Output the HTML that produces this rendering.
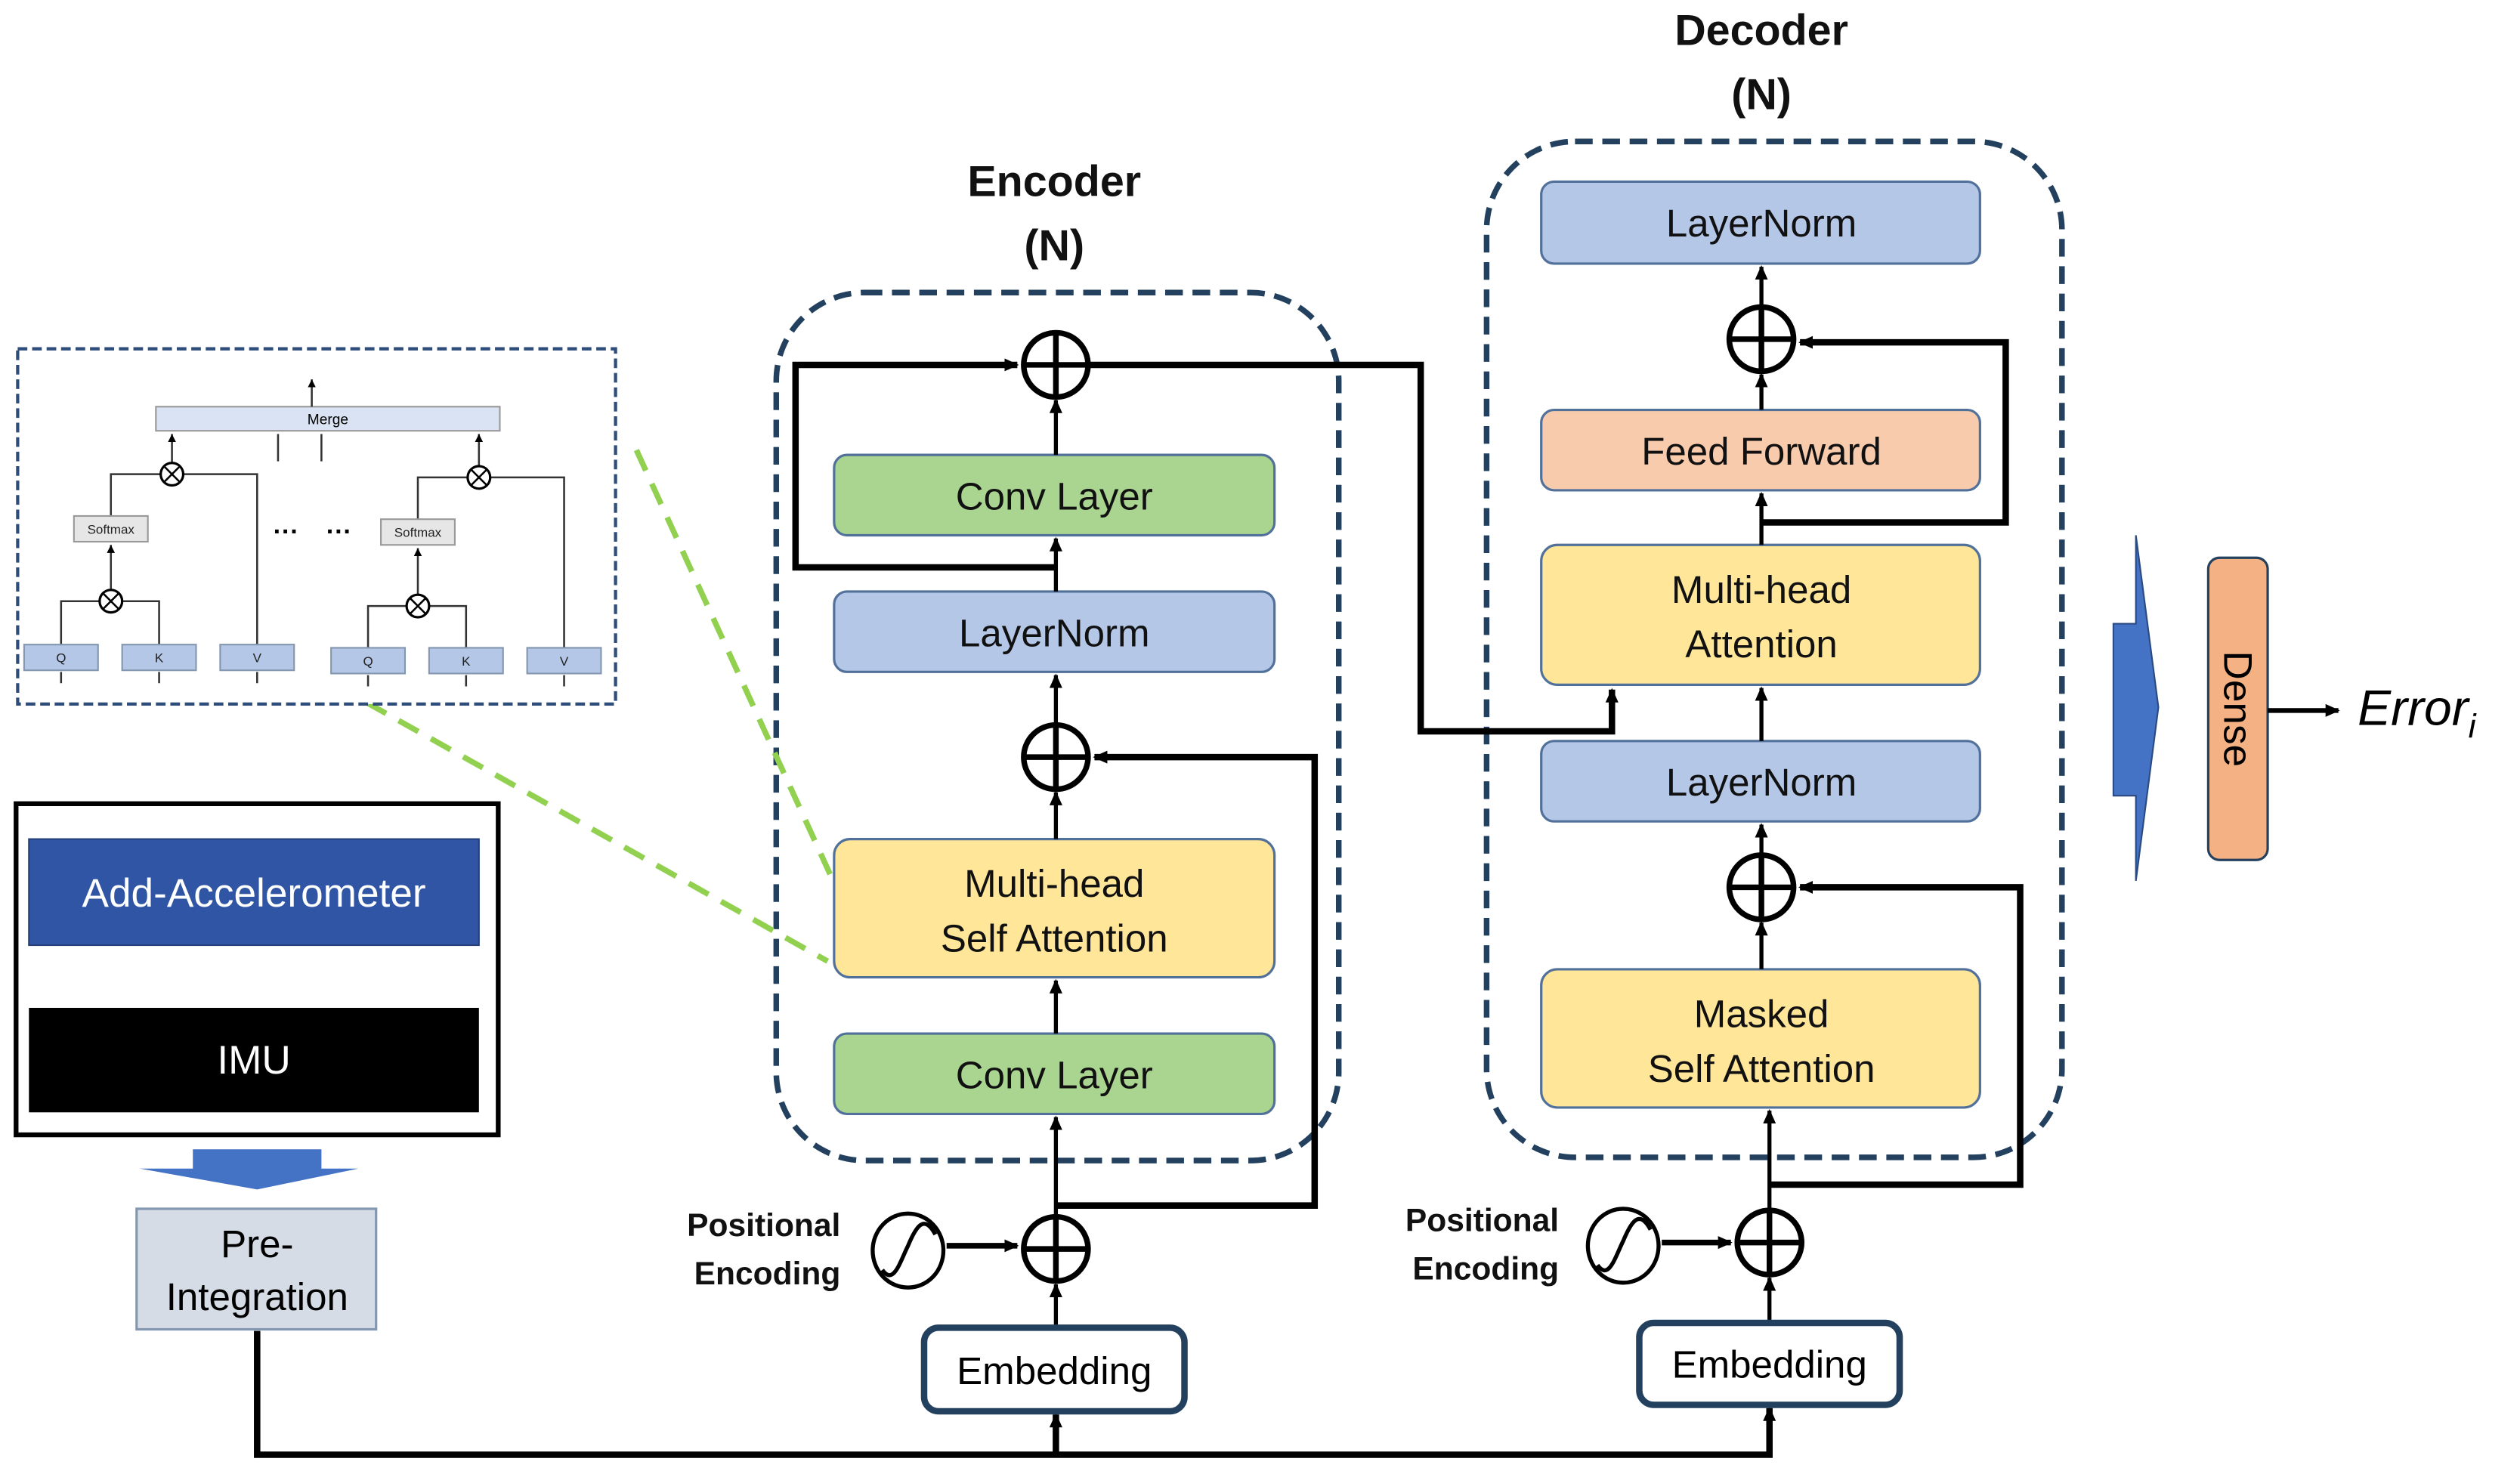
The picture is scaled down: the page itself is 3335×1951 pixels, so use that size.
<!DOCTYPE html>
<html><head><meta charset="utf-8"><style>
html,body{margin:0;padding:0;background:#fff;}
svg{display:block;}
text{font-family:"Liberation Sans",sans-serif;}
</style></head><body>
<svg width="3335" height="1951" viewBox="0 0 1568 917" preserveAspectRatio="none" xmlns="http://www.w3.org/2000/svg">
<defs>
<marker id="a" markerWidth="10" markerHeight="10" refX="8" refY="5" orient="auto" markerUnits="userSpaceOnUse"><path d="M0,1 L9,5 L0,9 Z" fill="#000"/></marker>
<marker id="s" markerWidth="6" markerHeight="6" refX="5" refY="3" orient="auto" markerUnits="userSpaceOnUse"><path d="M0,0.5 L5,3 L0,5.5 Z" fill="#000"/></marker>
</defs>

<g font-weight="bold" font-size="27" text-anchor="middle" fill="#111">
<text x="656" y="122">Encoder</text><text x="656" y="162">(N)</text>
<text x="1096" y="28">Decoder</text><text x="1096" y="68">(N)</text>
</g>

<rect x="483" y="182" width="350" height="540" rx="55" fill="none" stroke="#23415f" stroke-width="3.5" stroke-dasharray="11,6"/>
<rect x="925" y="88" width="358" height="632" rx="55" fill="none" stroke="#23415f" stroke-width="3.5" stroke-dasharray="11,6"/>

<g stroke="#51709a" stroke-width="1.5">
<rect x="519" y="283" width="274" height="50" rx="8" fill="#a9d590"/>
<rect x="519" y="368" width="274" height="50" rx="8" fill="#b4c7e7"/>
<rect x="519" y="522" width="274" height="86" rx="10" fill="#ffe699"/>
<rect x="519" y="643" width="274" height="50" rx="8" fill="#a9d590"/>
<rect x="959" y="113" width="273" height="51" rx="8" fill="#b4c7e7"/>
<rect x="959" y="255" width="273" height="50" rx="8" fill="#f8cbad"/>
<rect x="959" y="339" width="273" height="87" rx="10" fill="#ffe699"/>
<rect x="959" y="461" width="273" height="50" rx="8" fill="#b4c7e7"/>
<rect x="959" y="603" width="273" height="86" rx="10" fill="#ffe699"/>
</g>
<g font-size="24" text-anchor="middle" fill="#111">
<text x="656" y="317">Conv Layer</text>
<text x="656" y="402">LayerNorm</text>
<text x="656" y="558">Multi-head</text><text x="656" y="592">Self Attention</text>
<text x="656" y="677">Conv Layer</text>
<text x="1096" y="147">LayerNorm</text>
<text x="1096" y="289">Feed Forward</text>
<text x="1096" y="375">Multi-head</text><text x="1096" y="409">Attention</text>
<text x="1096" y="495">LayerNorm</text>
<text x="1096" y="639">Masked</text><text x="1096" y="673">Self Attention</text>
</g>

<g font-weight="bold" font-size="20" text-anchor="end" fill="#111">
<text x="523" y="769">Positional</text><text x="523" y="799">Encoding</text>
<text x="970" y="766">Positional</text><text x="970" y="796">Encoding</text>
</g>
<g fill="none" stroke="#000" stroke-width="2.5">
<ellipse cx="565" cy="778" rx="22" ry="23"/>
<path d="M549,790 C556,800 560,785 565,775 C570,763 575,755 582,768"/>
<ellipse cx="1010" cy="775" rx="22" ry="23"/>
<path d="M994,787 C1001,797 1005,782 1010,772 C1015,760 1020,752 1027,765"/>
</g>

<g fill="none" stroke="#000" stroke-width="2.5">
<path d="M657,826V799" marker-end="url(#a)"/>
<path d="M657,757V695" marker-end="url(#a)"/>
<path d="M657,643V610" marker-end="url(#a)"/>
<path d="M657,522V493" marker-end="url(#a)"/>
<path d="M657,451V420" marker-end="url(#a)"/>
<path d="M657,368V335" marker-end="url(#a)"/>
<path d="M657,283V249" marker-end="url(#a)"/>
<path d="M1096,255V233" marker-end="url(#a)"/>
<path d="M1096,191V166" marker-end="url(#a)"/>
<path d="M1096,339V307" marker-end="url(#a)"/>
<path d="M1096,461V428" marker-end="url(#a)"/>
<path d="M1096,532V513" marker-end="url(#a)"/>
<path d="M1096,603V574" marker-end="url(#a)"/>
<path d="M1101,753V691" marker-end="url(#a)"/>
<path d="M1101,823V795" marker-end="url(#a)"/>
<path d="M589,775H633" marker-end="url(#a)" stroke-width="3.5"/>
<path d="M1034,773H1077" marker-end="url(#a)" stroke-width="3.5"/>
</g>
<g fill="none" stroke="#000" stroke-width="4">
<path d="M657,750H818V471H681" marker-end="url(#a)"/>
<path d="M657,353H495V227H633" marker-end="url(#a)"/>
<path d="M677,227H884V455H1003V429" marker-end="url(#a)"/>
<path d="M1096,325H1248V213H1120" marker-end="url(#a)"/>
<path d="M1101,737H1257V552H1120" marker-end="url(#a)"/>
<path d="M160,828V905H1101V876" marker-end="url(#a)"/>
<path d="M657,905V880" marker-end="url(#a)"/>
</g>

<rect x="575" y="826" width="162" height="52" rx="9" fill="#fff" stroke="#23415f" stroke-width="4"/>
<text x="656" y="861" font-size="24" text-anchor="middle">Embedding</text>
<rect x="1020" y="823" width="162" height="51" rx="9" fill="#fff" stroke="#23415f" stroke-width="4"/>
<text x="1101" y="857" font-size="24" text-anchor="middle">Embedding</text>

<g fill="#fff" stroke="#000" stroke-width="3.5">
<circle cx="657" cy="227" r="20"/><circle cx="657" cy="471" r="20"/><circle cx="657" cy="777" r="20"/>
<circle cx="1096" cy="211" r="20"/><circle cx="1096" cy="552" r="20"/><circle cx="1101" cy="773" r="20"/>
</g>
<g stroke="#000" stroke-width="3.5">
<path d="M637,227H677M657,207V247"/><path d="M637,471H677M657,451V491"/><path d="M637,777H677M657,757V797"/>
<path d="M1076,211H1116M1096,191V231"/><path d="M1076,552H1116M1096,532V572"/><path d="M1081,773H1121M1101,753V793"/>
</g>

<rect x="10" y="500" width="300" height="206" fill="#fff" stroke="#000" stroke-width="3"/>
<rect x="18" y="522" width="280" height="66" fill="#2f55a4" stroke="#243f7a" stroke-width="1"/>
<text x="158" y="564" font-size="25" fill="#fff" text-anchor="middle">Add-Accelerometer</text>
<rect x="18" y="627" width="280" height="65" fill="#000"/>
<text x="158" y="668" font-size="25" fill="#fff" text-anchor="middle">IMU</text>
<path d="M120,715H200V727H223L160,740L87,727H120Z" fill="#4472c4"/>
<rect x="85" y="752" width="149" height="75" fill="#d6dce5" stroke="#8497b0" stroke-width="1.5"/>
<text x="160" y="782" font-size="24" text-anchor="middle">Pre-</text>
<text x="160" y="815" font-size="24" text-anchor="middle">Integration</text>

<g stroke="#92d050" stroke-width="3.5" stroke-dasharray="14,9" fill="none">
<path d="M396,280L517,545"/><path d="M228,437L515,598"/>
</g>

<rect x="11" y="217" width="372" height="221" fill="#fff" stroke="#2f4d7a" stroke-width="2" stroke-dasharray="6,3"/>
<rect x="97" y="253" width="214" height="15" fill="#dae3f3" stroke="#999" stroke-width="1"/>
<text x="204" y="264" font-size="9" text-anchor="middle">Merge</text>
<g stroke="#333" stroke-width="1.2" fill="none">
<path d="M194,253V236" marker-end="url(#s)"/>
<path d="M107,288V270" marker-end="url(#s)"/><path d="M298,290V270" marker-end="url(#s)"/>
<path d="M173,287V270"/><path d="M200,287V270"/>
<path d="M69,321V295H100M114,295H160V401"/>
<path d="M260,323V297H291M305,297H351V403"/>
<path d="M69,367V339" marker-end="url(#s)"/><path d="M260,370V341" marker-end="url(#s)"/>
<path d="M38,401V374H62M76,374H99V401"/>
<path d="M229,403V377H253M267,377H290V403"/>
<path d="M38,425V418M99,425V418M160,425V418M229,427V420M290,427V420M351,427V420"/>
</g>
<g fill="#fff" stroke="#000" stroke-width="1.5">
<circle cx="107" cy="295" r="7"/><circle cx="298" cy="297" r="7"/><circle cx="69" cy="374" r="7"/><circle cx="260" cy="377" r="7"/>
</g>
<g stroke="#000" stroke-width="1.2">
<path d="M102,290L112,300M112,290L102,300"/><path d="M293,292L303,302M303,292L293,302"/>
<path d="M64,369L74,379M74,369L64,379"/><path d="M255,372L265,382M265,372L255,382"/>
</g>
<g fill="#e7e6e6" stroke="#999" stroke-width="1">
<rect x="46" y="321" width="46" height="16"/><rect x="237" y="323" width="46" height="16"/>
</g>
<g fill="#b4c7e7" stroke="#8497b0" stroke-width="1">
<rect x="15" y="401" width="46" height="16"/><rect x="76" y="401" width="46" height="16"/><rect x="137" y="401" width="46" height="16"/>
<rect x="206" y="403" width="46" height="16"/><rect x="267" y="403" width="46" height="16"/><rect x="328" y="403" width="46" height="16"/>
</g>
<g font-size="8" text-anchor="middle" fill="#222">
<text x="69" y="332">Softmax</text><text x="260" y="334">Softmax</text>
<text x="38" y="412">Q</text><text x="99" y="412">K</text><text x="160" y="412">V</text>
<text x="229" y="414">Q</text><text x="290" y="414">K</text><text x="351" y="414">V</text>
</g>
<text x="178" y="336" font-size="16" font-weight="bold" text-anchor="middle">···</text>
<text x="211" y="336" font-size="16" font-weight="bold" text-anchor="middle">···</text>

<path d="M1315,388H1329V333L1343,440L1329,548V495H1315Z" fill="#4472c4" stroke="#2a4a80" stroke-width="1"/>
<rect x="1374" y="347" width="37" height="188" rx="7" fill="#f4b183" stroke="#23415f" stroke-width="1.5"/>
<text x="0" y="0" font-size="25" text-anchor="middle" transform="translate(1384,441) rotate(90)">Dense</text>
<path d="M1411,442H1455" stroke="#000" stroke-width="3" marker-end="url(#a)"/>
<text x="1467" y="451" font-family="Liberation Serif,serif" font-style="italic" font-size="31">Error<tspan font-size="21" dy="8">i</tspan></text>
</svg>
</body></html>
